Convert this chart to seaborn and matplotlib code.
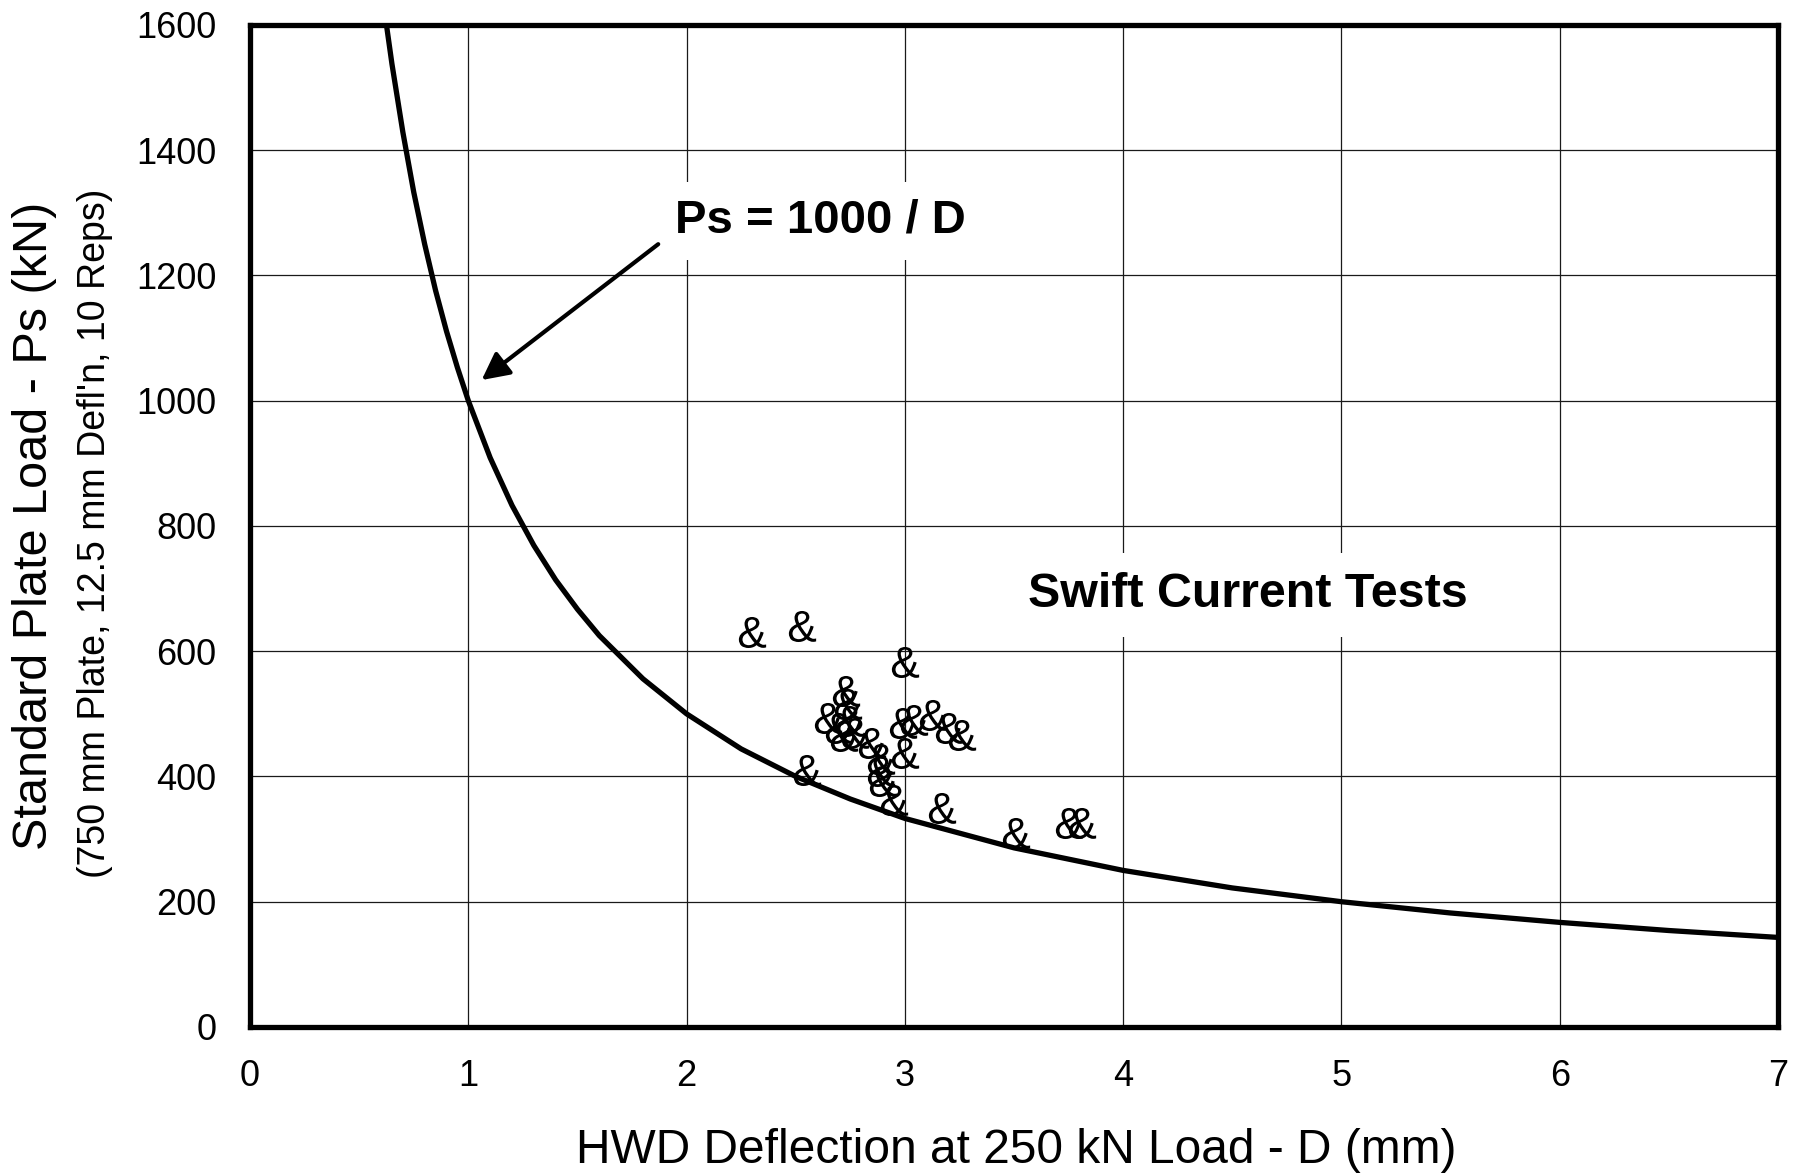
import numpy as np
import pandas as pd
import matplotlib
matplotlib.use("Agg")
import matplotlib.pyplot as plt
from matplotlib.ticker import MultipleLocator
from matplotlib.textpath import TextPath
from matplotlib.font_manager import FontProperties
from matplotlib.path import Path
import seaborn as sns

# ---- data ----
# Ps = 1000 / D curve
curve_D = [0.625, 0.65, 0.7, 0.75, 0.8, 0.85, 0.9, 0.95, 1.0, 1.1, 1.2, 1.3, 1.4,
           1.5, 1.6, 1.8, 2.0, 2.25, 2.5, 2.75, 3.0, 3.5, 4.0, 4.5, 5.0, 5.5, 6.0, 6.5, 7.0]
curve_Ps = [1600, 1538, 1429, 1333, 1250, 1176, 1111, 1053, 1000, 909, 833, 769, 714,
            667, 625, 556, 500, 444, 400, 364, 333, 286, 250, 222, 200, 182, 167, 154, 143]

# Swift Current tests
test_D = [2.30, 2.53, 3.00, 2.73, 2.74, 2.65, 2.75, 2.72, 2.77, 2.70,
          2.85, 2.89, 2.89, 2.90, 2.95, 2.99, 3.04, 3.00, 3.13, 3.20,
          3.26, 3.17, 2.55, 3.51, 3.75, 3.81]
test_Ps = [630, 640, 583, 537, 516, 493, 488, 465, 469, 478,
           453, 428, 408, 392, 363, 485, 490, 437, 498, 477,
           467, 350, 411, 310, 325, 325]

x_ticks = [0, 1, 2, 3, 4, 5, 6, 7]
y_ticks = [0, 200, 400, 600, 800, 1000, 1200, 1400, 1600]

curve_df = pd.DataFrame({"D": curve_D, "Ps": curve_Ps})
test_df = pd.DataFrame({"D": test_D, "Ps": test_Ps})

# ---- style ----
sns.set_theme(style="white")
plt.rcParams["font.family"] = ["Liberation Sans", "DejaVu Sans"]
for key in ["text.color", "axes.labelcolor", "xtick.color", "ytick.color"]:
    plt.rcParams[key] = "black"

# ampersand glyph used as the marker
amp = TextPath((0, 0), "&", size=1, prop=FontProperties(family="Liberation Sans"))
ext = amp.get_extents()
cx, cy = (ext.x0 + ext.x1) / 2, (ext.y0 + ext.y1) / 2
amp_marker = Path(amp.vertices - [cx, cy], amp.codes)

fig = plt.figure(figsize=(18.08, 11.73), dpi=100)
ax = fig.add_axes([0.1383, 0.1245, 0.8451, 0.8542])

sns.lineplot(data=curve_df, x="D", y="Ps", ax=ax, color="black", lw=3.8,
             sort=False, zorder=3)
sns.scatterplot(data=test_df, x="D", y="Ps", ax=ax, marker=amp_marker,
                s=500, color="black", linewidth=0, zorder=4)

ax.set_xlim(0, 7)
ax.set_ylim(0, 1600)
ax.set_xticks(x_ticks)
ax.set_yticks(y_ticks)
ax.set_xticklabels([str(t) for t in x_ticks])
ax.set_yticklabels([str(t) for t in y_ticks])
ax.xaxis.set_minor_locator(MultipleLocator(0.2))
ax.yaxis.set_minor_locator(MultipleLocator(50))
ax.grid(True, which="major", color="#1a1a1a", lw=0.9, zorder=1)
ax.set_axisbelow(True)
ax.tick_params(which="major", direction="in", length=0, labelsize=26,
               labelcolor="black")
ax.tick_params(axis="y", which="major", pad=24)
ax.tick_params(axis="x", which="major", pad=23)
ax.tick_params(which="minor", direction="in", length=8, width=0.9, color="#444444")
for sp in ax.spines.values():
    sp.set_visible(True)
    sp.set_color("black")
    sp.set_linewidth(3.8)
    sp.set_zorder(5)

ax.set_xlabel("")
ax.set_ylabel("")
fig.text(0.5622, 1 - 1163 / 1173, "HWD Deflection at 250 kN Load - D (mm)",
         fontsize=34.5, ha="center", va="baseline", color="black")
fig.text(35 / 1808, 0.5516, "Standard Plate Load - Ps (kN)", fontsize=35,
         rotation=90, ha="center", va="center", color="black")
fig.text(95 / 1808, 0.5456, "(750 mm Plate, 12.5 mm Defl'n, 10 Reps)", fontsize=27,
         rotation=90, ha="center", va="center", color="black")

ax.text(1.949, 1287, "Ps = 1000 / D", fontsize=34, fontweight="bold",
        ha="left", va="center", zorder=6, color="black",
        bbox=dict(boxstyle="square,pad=0.35", fc="white", ec="none"))
ax.annotate("", xy=(1.061, 1033), xytext=(1.87, 1250), zorder=6,
            arrowprops=dict(arrowstyle="-|>,head_length=0.55,head_width=0.28",
                            lw=3.0, color="black", mutation_scale=30,
                            shrinkA=0, shrinkB=0))
ax.text(3.564, 690, "Swift Current Tests", fontsize=34.8, fontweight="bold",
        ha="left", va="center", zorder=6, color="black",
        bbox=dict(boxstyle="square,pad=0.4", fc="white", ec="none"))

fig.savefig("out.png", dpi=100)
